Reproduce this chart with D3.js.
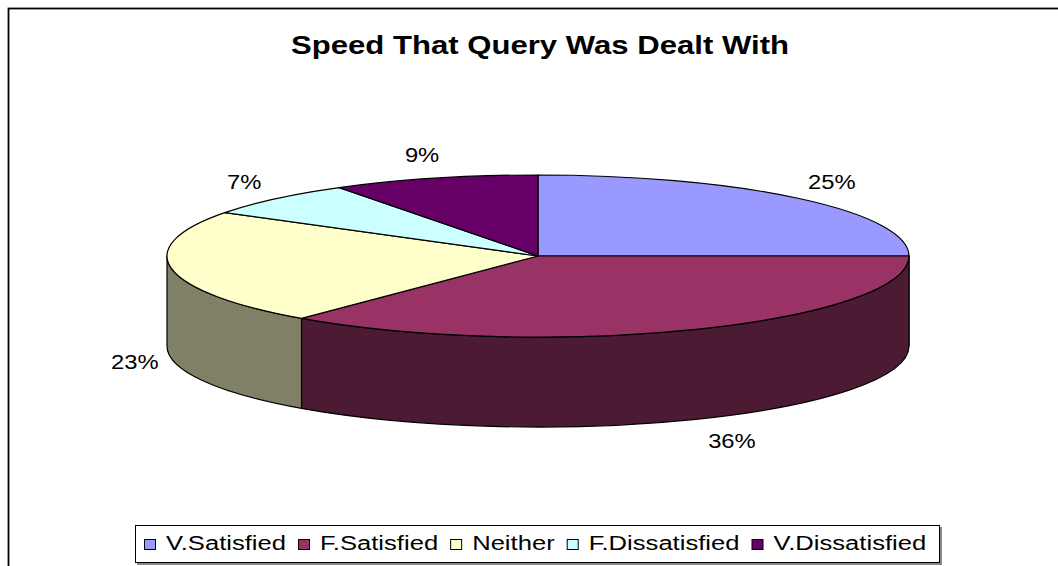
<!DOCTYPE html>
<html>
<head>
<meta charset="utf-8">
<script src="https://cdn.jsdelivr.net/npm/d3@7"></script>
<style>
  body { margin: 0; background: #fff; }
  text { font-family: "Liberation Sans", Arial, sans-serif; fill: #000; }
</style>
</head>
<body>
<div class="chart"></div>
<script>
// data
var categories = ["V.Satisfied", "F.Satisfied", "Neither", "F.Dissatisfied", "V.Dissatisfied"];
var values = [25, 36, 23, 7, 9];
var palette = ["#9999FF", "#993366", "#FFFFCC", "#CCFFFF", "#660066"];

var svgWidth = 1058;
var svgHeight = 566;
var stretch = 1.22; // text in the picture is wider than it is tall

var cx = 538, cy = 256, rx = 371, ry = 81, depth = 90;

var svg = d3.select(".chart")
  .append("svg")
  .attr("width", svgWidth)
  .attr("height", svgHeight);

// outer frame (only top and left are visible)
svg.append("rect")
  .attr("x", 8.5).attr("y", 8.5)
  .attr("width", 1200).attr("height", 800)
  .attr("fill", "none")
  .attr("stroke", "#000")
  .attr("stroke-width", 1.8);

// title
svg.append("text")
  .attr("transform", `translate(${cx + 2}, 54) scale(${stretch}, 1)`)
  .attr("text-anchor", "middle")
  .style("font-size", "25.5px")
  .style("font-weight", "bold")
  .text("Speed That Query Was Dealt With");

var pie = d3.pie().sort(null).value(d => d.value);
var arcs = pie(categories.map((c, i) => ({ name: c, value: values[i], color: palette[i] })));

function px(a) { return cx + rx * Math.sin(a); }
function py(a) { return cy - ry * Math.cos(a); }

function half(c) {
  var r = d3.rgb(c);
  return d3.rgb(Math.round(r.r / 2), Math.round(r.g / 2), Math.round(r.b / 2)).toString();
}

function sidePath(a0, a1) {
  var s0 = Math.max(a0, Math.PI / 2);
  var s1 = Math.min(a1, Math.PI * 3 / 2);
  if (s0 >= s1) return null;
  var large = (s1 - s0) > Math.PI ? 1 : 0;
  return `M${px(s0)},${py(s0)}` +
    `A${rx},${ry} 0 ${large} 1 ${px(s1)},${py(s1)}` +
    `L${px(s1)},${py(s1) + depth}` +
    `A${rx},${ry} 0 ${large} 0 ${px(s0)},${py(s0) + depth}Z`;
}

function topPath(a0, a1) {
  var large = (a1 - a0) > Math.PI ? 1 : 0;
  return `M${cx},${cy}L${px(a0)},${py(a0)}` +
    `A${rx},${ry} 0 ${large} 1 ${px(a1)},${py(a1)}Z`;
}

var pieGroup = svg.append("g");

pieGroup.selectAll("path.side")
  .data(arcs.filter(d => sidePath(d.startAngle, d.endAngle)))
  .enter()
  .append("path")
  .attr("class", "side")
  .attr("d", d => sidePath(d.startAngle, d.endAngle))
  .attr("fill", d => half(d.data.color))
  .attr("stroke", "#000")
  .attr("stroke-width", 1.2)
  .attr("stroke-linejoin", "round");

pieGroup.selectAll("path.top")
  .data(arcs)
  .enter()
  .append("path")
  .attr("class", "top")
  .attr("d", d => topPath(d.startAngle, d.endAngle))
  .attr("fill", d => d.data.color)
  .attr("stroke", "#000")
  .attr("stroke-width", 1.2)
  .attr("stroke-linejoin", "round");

// percentage labels
var total = d3.sum(values);
svg.selectAll("text.pct")
  .data(arcs)
  .enter()
  .append("text")
  .attr("class", "pct")
  .attr("text-anchor", "middle")
  .attr("transform", function (d) {
    var a = (d.startAngle + d.endAngle) / 2;
    var front = Math.cos(a) < 0;
    var k = front ? 1.1 + 0.3 * Math.max(0, Math.sin(a)) : 1.12;
    var x = cx + rx * k * Math.sin(a);
    var y = cy - ry * 1.3 * Math.cos(a) + (front ? depth : 0) + 7;
    return `translate(${x}, ${y}) scale(${stretch}, 1)`;
  })
  .style("font-size", "19.5px")
  .text(d => Math.round(d.value / total * 100) + "%");

// legend
var legend = svg.append("g");
legend.append("rect")
  .attr("x", 137).attr("y", 527)
  .attr("width", 805).attr("height", 38)
  .attr("fill", "#888");
legend.append("rect")
  .attr("x", 135.5).attr("y", 525.5)
  .attr("width", 804).attr("height", 37)
  .attr("fill", "#fff")
  .attr("stroke", "#000");

var lx = 144;
categories.forEach(function (c, i) {
  legend.append("rect")
    .attr("x", lx + 0.5).attr("y", 539.5)
    .attr("width", 11).attr("height", 10)
    .attr("fill", palette[i])
    .attr("stroke", "#000")
    .attr("stroke-width", 1);
  var t = legend.append("text")
    .attr("transform", `translate(${lx + 22}, 550) scale(${stretch}, 1)`)
    .style("font-size", "21px")
    .text(c);
  lx += 22 + t.node().getComputedTextLength() * stretch + 12;
});
</script>
</body>
</html>
